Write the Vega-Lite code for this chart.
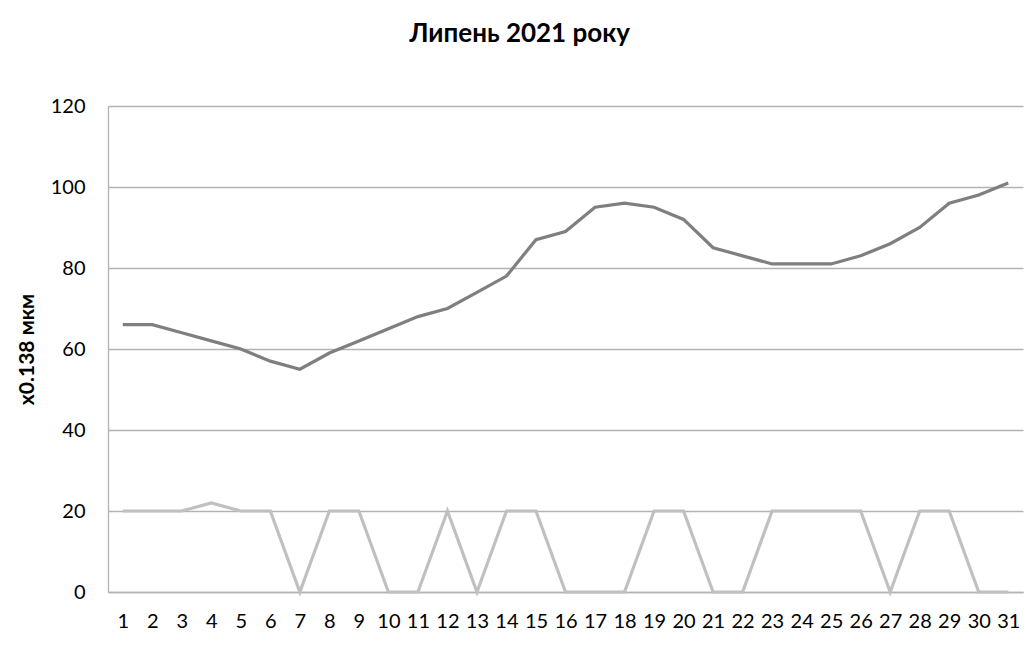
{
  "$schema": "https://vega.github.io/schema/vega-lite/v6.json",
  "width": 915,
  "height": 486,
  "autosize": {"type": "none"},
  "padding": {"left": 108, "top": 106, "right": 6, "bottom": 61},
  "background": "white",
  "title": {
    "text": "Липень 2021 року",
    "font": "Lato",
    "fontSize": 26,
    "fontWeight": "bold",
    "color": "#000000",
    "frame": "bounds",
    "anchor": "middle",
    "baseline": "alphabetic",
    "offset": 28
  },
  "data": {
    "values": [
      {"day": 1, "series": "A", "value": 66}, {"day": 2, "series": "A", "value": 66},
      {"day": 3, "series": "A", "value": 64}, {"day": 4, "series": "A", "value": 62},
      {"day": 5, "series": "A", "value": 60}, {"day": 6, "series": "A", "value": 57},
      {"day": 7, "series": "A", "value": 55}, {"day": 8, "series": "A", "value": 59},
      {"day": 9, "series": "A", "value": 62}, {"day": 10, "series": "A", "value": 65},
      {"day": 11, "series": "A", "value": 68}, {"day": 12, "series": "A", "value": 70},
      {"day": 13, "series": "A", "value": 74}, {"day": 14, "series": "A", "value": 78},
      {"day": 15, "series": "A", "value": 87}, {"day": 16, "series": "A", "value": 89},
      {"day": 17, "series": "A", "value": 95}, {"day": 18, "series": "A", "value": 96},
      {"day": 19, "series": "A", "value": 95}, {"day": 20, "series": "A", "value": 92},
      {"day": 21, "series": "A", "value": 85}, {"day": 22, "series": "A", "value": 83},
      {"day": 23, "series": "A", "value": 81}, {"day": 24, "series": "A", "value": 81},
      {"day": 25, "series": "A", "value": 81}, {"day": 26, "series": "A", "value": 83},
      {"day": 27, "series": "A", "value": 86}, {"day": 28, "series": "A", "value": 90},
      {"day": 29, "series": "A", "value": 96}, {"day": 30, "series": "A", "value": 98},
      {"day": 31, "series": "A", "value": 101},
      {"day": 1, "series": "B", "value": 20}, {"day": 2, "series": "B", "value": 20},
      {"day": 3, "series": "B", "value": 20}, {"day": 4, "series": "B", "value": 22},
      {"day": 5, "series": "B", "value": 20}, {"day": 6, "series": "B", "value": 20},
      {"day": 7, "series": "B", "value": 0}, {"day": 8, "series": "B", "value": 20},
      {"day": 9, "series": "B", "value": 20}, {"day": 10, "series": "B", "value": 0},
      {"day": 11, "series": "B", "value": 0}, {"day": 12, "series": "B", "value": 20},
      {"day": 13, "series": "B", "value": 0}, {"day": 14, "series": "B", "value": 20},
      {"day": 15, "series": "B", "value": 20}, {"day": 16, "series": "B", "value": 0},
      {"day": 17, "series": "B", "value": 0}, {"day": 18, "series": "B", "value": 0},
      {"day": 19, "series": "B", "value": 20}, {"day": 20, "series": "B", "value": 20},
      {"day": 21, "series": "B", "value": 0}, {"day": 22, "series": "B", "value": 0},
      {"day": 23, "series": "B", "value": 20}, {"day": 24, "series": "B", "value": 20},
      {"day": 25, "series": "B", "value": 20}, {"day": 26, "series": "B", "value": 20},
      {"day": 27, "series": "B", "value": 0}, {"day": 28, "series": "B", "value": 20},
      {"day": 29, "series": "B", "value": 20}, {"day": 30, "series": "B", "value": 0},
      {"day": 31, "series": "B", "value": 0}
    ]
  },
  "mark": {"type": "line", "strokeWidth": 3.2, "strokeJoin": "miter"},
  "encoding": {
    "x": {
      "field": "day",
      "type": "ordinal",
      "scale": {"type": "point", "padding": 0.5},
      "axis": {
        "title": null,
        "labelAngle": 0,
        "labelFont": "Lato",
        "labelFontSize": 20,
        "labelColor": "#000000",
        "labelPadding": 19,
        "ticks": false,
        "grid": false,
        "domainColor": "#b3b3b3",
        "domainWidth": 1.3
      }
    },
    "y": {
      "field": "value",
      "type": "quantitative",
      "scale": {"domain": [0, 120], "nice": false},
      "axis": {
        "title": "x0.138 мкм",
        "titleFont": "Lato",
        "titleFontSize": 21,
        "titleFontWeight": "bold",
        "titleColor": "#000000",
        "titlePadding": 13,
        "values": [0, 20, 40, 60, 80, 100, 120],
        "labelFont": "Lato",
        "labelFontSize": 20,
        "labelColor": "#000000",
        "labelPadding": 23,
        "ticks": false,
        "grid": true,
        "gridColor": "#b3b3b3",
        "gridWidth": 1.3,
        "domainColor": "#b3b3b3",
        "domainWidth": 1.3
      }
    },
    "color": {
      "field": "series",
      "type": "nominal",
      "scale": {"domain": ["A", "B"], "range": ["#7f7f7f", "#c0c0c0"]},
      "legend": null
    }
  },
  "config": {"view": {"stroke": null}}
}
